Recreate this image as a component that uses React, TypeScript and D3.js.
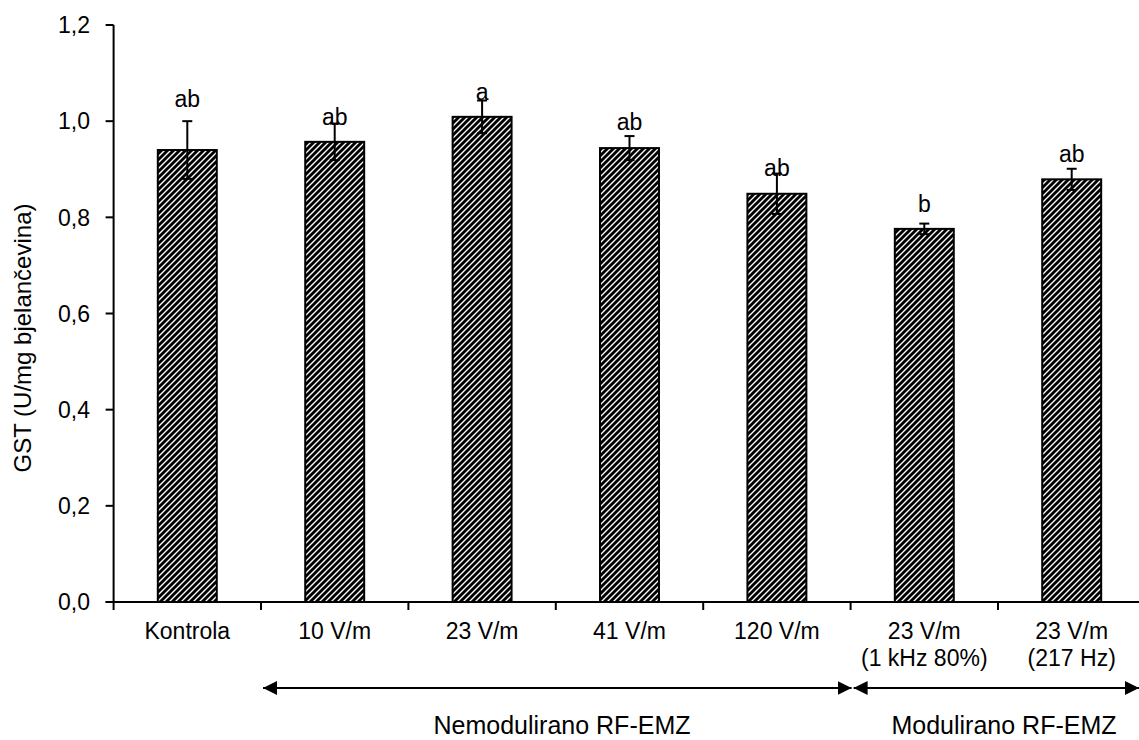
import React, { useRef, useEffect } from 'react';
import * as d3 from 'd3';

// Chart data
const categories = ['Kontrola', '10 V/m', '23 V/m', '41 V/m', '120 V/m', '23 V/m (1 kHz 80%)', '23 V/m (217 Hz)'];
const categoryLines = [
  ['Kontrola'],
  ['10 V/m'],
  ['23 V/m'],
  ['41 V/m'],
  ['120 V/m'],
  ['23 V/m', '(1 kHz 80%)'],
  ['23 V/m', '(217 Hz)'],
];
const means = [0.94, 0.957, 1.009, 0.944, 0.849, 0.776, 0.879];
const errors = [0.06, 0.038, 0.034, 0.025, 0.042, 0.011, 0.022];
const letters = ['ab', 'ab', 'a', 'ab', 'ab', 'b', 'ab'];
const letterAt = [1.03, 0.992, 1.044, 0.982, 0.886, 0.811, 0.916];
const yTicks = [0, 0.2, 0.4, 0.6, 0.8, 1.0, 1.2];
const groups = [
  { label: 'Nemodulirano RF-EMZ', from: 1, to: 4 },
  { label: 'Modulirano RF-EMZ', from: 5, to: 6 },
];

const FONT = '"Liberation Sans", Arial, sans-serif';

const App: React.FC = () => {
  const svgRef = useRef<SVGSVGElement>(null);
  const width = 1139;
  const height = 740;

  useEffect(() => {
    if (!svgRef.current) return;
    const svg = d3.select(svgRef.current);
    svg.selectAll('*').remove();

    const left = 113.6;
    const top = 25;
    const bottom = 602;
    const step = 147.4;

    const x = d3
      .scaleBand<string>()
      .domain(categories)
      .range([left, left + step * categories.length])
      .paddingInner(0.6)
      .paddingOuter(0.3);

    const y = d3.scaleLinear().domain([0, 1.2]).range([bottom, top]);
    const fmt = (v: number) => d3.format('.1f')(v).replace('.', ',');

    // hatch pattern (wide upward diagonal)
    const defs = svg.append('defs');
    const pat = defs
      .append('pattern')
      .attr('id', 'hatch')
      .attr('patternUnits', 'userSpaceOnUse')
      .attr('width', 6)
      .attr('height', 6);
    pat.append('rect').attr('width', 6).attr('height', 6).attr('fill', 'white');
    pat
      .append('path')
      .attr('d', 'M0,6 L6,0 M-1.5,1.5 L1.5,-1.5 M4.5,7.5 L7.5,4.5')
      .attr('stroke', 'black')
      .attr('stroke-width', 2.9);

    const pad = (x.step() - x.bandwidth()) / 2;
    const boundary = (i: number) =>
      i < categories.length ? x(categories[i])! - pad : x(categories[categories.length - 1])! + x.bandwidth() + pad;

    // bars
    svg
      .append('g')
      .selectAll('rect')
      .data(means)
      .enter()
      .append('rect')
      .attr('x', (d, i) => x(categories[i])!)
      .attr('y', (d) => y(d))
      .attr('width', x.bandwidth())
      .attr('height', (d) => y(0) - y(d))
      .attr('fill', 'url(#hatch)')
      .attr('stroke', 'black')
      .attr('stroke-width', 2);

    // error bars
    const eb = svg.append('g').attr('stroke', 'black').attr('stroke-width', 2);
    means.forEach((m, i) => {
      const cx = x(categories[i])! + x.bandwidth() / 2;
      eb.append('line').attr('x1', cx).attr('x2', cx).attr('y1', y(m - errors[i])).attr('y2', y(m + errors[i]));
      [m - errors[i], m + errors[i]].forEach((v) => {
        eb.append('line').attr('x1', cx - 5).attr('x2', cx + 5).attr('y1', y(v)).attr('y2', y(v));
      });
    });

    // significance letters
    svg
      .append('g')
      .selectAll('text')
      .data(letters)
      .enter()
      .append('text')
      .attr('x', (d, i) => x(categories[i])! + x.bandwidth() / 2)
      .attr('y', (d, i) => y(letterAt[i]))
      .attr('text-anchor', 'middle')
      .attr('font-family', FONT)
      .attr('font-size', 23)
      .text((d) => d);

    // y axis
    const ya = svg.append('g');
    ya.append('line')
      .attr('x1', left)
      .attr('x2', left)
      .attr('y1', y(1.2))
      .attr('y2', y(0))
      .attr('stroke', 'black')
      .attr('stroke-width', 2);
    yTicks.forEach((t) => {
      ya.append('line')
        .attr('x1', left - 8)
        .attr('x2', left)
        .attr('y1', y(t))
        .attr('y2', y(t))
        .attr('stroke', 'black')
        .attr('stroke-width', 2);
      ya.append('text')
        .attr('x', 90)
        .attr('y', y(t))
        .attr('dy', '0.36em')
        .attr('text-anchor', 'end')
        .attr('font-family', FONT)
        .attr('font-size', 23)
        .text(fmt(t));
    });

    svg
      .append('text')
      .attr('transform', `translate(31,338) rotate(-90)`)
      .attr('text-anchor', 'middle')
      .attr('font-family', FONT)
      .attr('font-size', 24)
      .text('GST (U/mg bjelančevina)');

    // x axis
    const xa = svg.append('g');
    xa.append('line')
      .attr('x1', left - 8)
      .attr('x2', boundary(categories.length))
      .attr('y1', y(0))
      .attr('y2', y(0))
      .attr('stroke', 'black')
      .attr('stroke-width', 2);
    d3.range(categories.length + 1).forEach((i) => {
      xa.append('line')
        .attr('x1', boundary(i))
        .attr('x2', boundary(i))
        .attr('y1', y(0))
        .attr('y2', y(0) + 8)
        .attr('stroke', 'black')
        .attr('stroke-width', 2);
    });
    categoryLines.forEach((lines, i) => {
      const t = xa
        .append('text')
        .attr('x', x(categories[i])! + x.bandwidth() / 2)
        .attr('y', 639)
        .attr('text-anchor', 'middle')
        .attr('font-family', FONT)
        .attr('font-size', 23);
      lines.forEach((l, j) => {
        t.append('tspan')
          .attr('x', x(categories[i])! + x.bandwidth() / 2)
          .attr('dy', j === 0 ? 0 : 27)
          .text(l);
      });
    });

    // group arrows
    defs
      .append('marker')
      .attr('id', 'tip')
      .attr('viewBox', '0 0 14 14')
      .attr('refX', 14)
      .attr('refY', 7)
      .attr('markerWidth', 14)
      .attr('markerHeight', 14)
      .attr('markerUnits', 'userSpaceOnUse')
      .attr('orient', 'auto-start-reverse')
      .append('path')
      .attr('d', 'M0,0 L14,7 L0,14 Z')
      .attr('fill', 'black');

    const arrowY = 688;
    groups.forEach((g, gi) => {
      const x1 = boundary(g.from) + (gi === 0 ? 2 : 3);
      const x2 = gi === 0 ? boundary(g.to + 1) + 1 : width;
      svg
        .append('line')
        .attr('x1', x1)
        .attr('x2', x2)
        .attr('y1', arrowY)
        .attr('y2', arrowY)
        .attr('stroke', 'black')
        .attr('stroke-width', 2)
        .attr('marker-start', 'url(#tip)')
        .attr('marker-end', 'url(#tip)');
      const cx = gi === 0 ? 562 : 1004;
      svg
        .append('text')
        .attr('x', cx)
        .attr('y', 734)
        .attr('text-anchor', 'middle')
        .attr('font-family', FONT)
        .attr('font-size', 25)
        .text(g.label);
    });
  }, []);

  return (
    <div style={{ position: 'absolute', left: 0, top: 0, width, height, overflow: 'hidden', background: 'white' }}>
      <svg ref={svgRef} width={width} height={height} style={{ display: 'block' }} />
    </div>
  );
};

export default App;
